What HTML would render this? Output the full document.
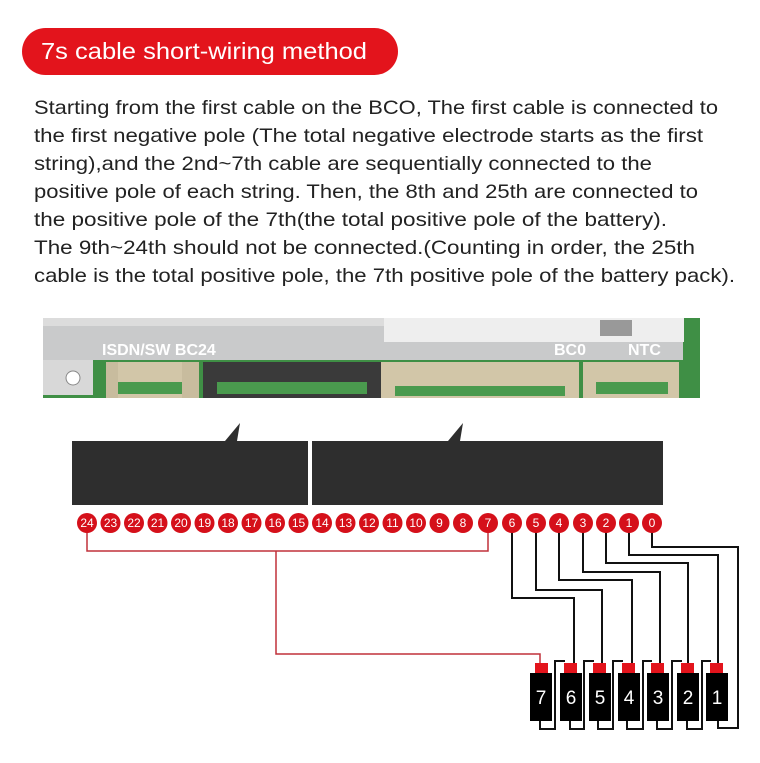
<!DOCTYPE html>
<html><head><meta charset="utf-8"><style>
html,body{margin:0;padding:0;background:#fff;}
svg{display:block;}
</style></head><body>
<svg width="760" height="763" viewBox="0 0 760 763" xmlns="http://www.w3.org/2000/svg" font-family="Liberation Sans, sans-serif">
<rect width="760" height="763" fill="#fff"/>
<rect x="22" y="28" width="376" height="47" rx="23.5" fill="#e3141c"/>
<text x="41" y="59" font-size="23" fill="#fff" textLength="326" lengthAdjust="spacingAndGlyphs">7s cable short-wiring method</text>
<g font-size="19.5" fill="#222">
<text x="34" y="114" textLength="684" lengthAdjust="spacingAndGlyphs">Starting from the first cable on the BCO, The first cable is connected to</text>
<text x="34" y="142" textLength="669" lengthAdjust="spacingAndGlyphs">the first negative pole (The total negative electrode starts as the first</text>
<text x="34" y="170" textLength="618" lengthAdjust="spacingAndGlyphs">string),and the 2nd~7th cable are sequentially connected to the</text>
<text x="34" y="198" textLength="664" lengthAdjust="spacingAndGlyphs">positive pole of each string. Then, the 8th and 25th are connected to</text>
<text x="34" y="226" textLength="633" lengthAdjust="spacingAndGlyphs">the positive pole of the 7th(the total positive pole of the battery).</text>
<text x="34" y="254" textLength="661" lengthAdjust="spacingAndGlyphs">The 9th~24th should not be connected.(Counting in order, the 25th</text>
<text x="34" y="282" textLength="701" lengthAdjust="spacingAndGlyphs">cable is the total positive pole, the 7th positive pole of the battery pack).</text>
</g>
<!-- board -->
<rect x="43" y="318" width="657" height="80" fill="#3f8f45"/>
<rect x="43" y="318" width="640" height="42" fill="#c9cacb"/>
<rect x="43" y="318" width="640" height="8" fill="#dcdcdc"/>
<rect x="43" y="360" width="50" height="35" fill="#d8d8d8"/>
<circle cx="73" cy="378" r="7" fill="#fff" stroke="#888"/>
<rect x="384" y="318" width="300" height="24" fill="#eeeeee"/>
<rect x="600" y="320" width="32" height="16" fill="#999"/>
<g font-size="16" font-weight="bold" fill="#fff"><text x="102" y="355">ISDN/SW BC24</text><text x="554" y="355">BC0</text><text x="628" y="355">NTC</text></g>
<rect x="106" y="362" width="92" height="36" fill="#d2c6a8"/>
<rect x="113" y="382" width="78" height="12" fill="#4a9a4e"/>
<rect x="106" y="362" width="12" height="36" fill="#c8bc9e"/>
<rect x="182" y="362" width="17" height="36" fill="#c8bc9e"/>
<rect x="203" y="362" width="178" height="36" fill="#3a3a3a"/>
<rect x="217" y="382" width="150" height="12" fill="#4a9a4e"/>
<rect x="381" y="362" width="198" height="36" fill="#d2c6a8"/>
<rect x="395" y="386" width="170" height="10" fill="#4a9a4e"/>
<rect x="583" y="362" width="96" height="36" fill="#d2c6a8"/>
<rect x="596" y="382" width="72" height="12" fill="#4a9a4e"/>
<!-- dark boxes -->
<rect x="72" y="441" width="236" height="64" fill="#2e2e2e"/>
<rect x="312" y="441" width="351" height="64" fill="#2e2e2e"/>
<polygon points="225,441 240,423 237,441" fill="#2e2e2e"/>
<polygon points="448,441 463,423 460,441" fill="#2e2e2e"/>
<!-- red wire -->
<polyline points="87,523 87,551 488,551 488,523" fill="none" stroke="#c0313a" stroke-width="1.5"/>
<polyline points="276,551 276,654 540,654 540,663" fill="none" stroke="#c0313a" stroke-width="1.5"/>
<!-- black wires -->
<g fill="none" stroke="#111" stroke-width="2">
<polyline points="512,523 512,598 574,598 574,663"/>
<polyline points="536,523 536,590 602,590 602,663"/>
<polyline points="559,523 559,580 632,580 632,663"/>
<polyline points="583,523 583,572 660,572 660,663"/>
<polyline points="606,523 606,563 688,563 688,663"/>
<polyline points="629,523 629,555 718,555 718,663"/>
<polyline points="652,523 652,547 738,547 738,728 718,728 718,721"/>
<polyline points="540,721 540,729 555,729 555,661 565,661"/>
<polyline points="570,721 570,729 584,729 584,661 594,661"/>
<polyline points="598,721 598,729 613,729 613,661 623,661"/>
<polyline points="627,721 627,729 643,729 643,661 652,661"/>
<polyline points="657,721 657,729 672,729 672,661 682,661"/>
<polyline points="687,721 687,729 702,729 702,661 711,661"/>
</g>
<!-- batteries -->
<g font-size="19" fill="#fff" text-anchor="middle">
<rect x="535" y="663" width="13" height="10" fill="#e3141c"/><rect x="530" y="673" width="22" height="48" fill="#000"/><text x="541" y="704">7</text>
<rect x="564" y="663" width="13" height="10" fill="#e3141c"/><rect x="560" y="673" width="22" height="48" fill="#000"/><text x="571" y="704">6</text>
<rect x="593" y="663" width="13" height="10" fill="#e3141c"/><rect x="589" y="673" width="22" height="48" fill="#000"/><text x="600" y="704">5</text>
<rect x="622" y="663" width="13" height="10" fill="#e3141c"/><rect x="618" y="673" width="22" height="48" fill="#000"/><text x="629" y="704">4</text>
<rect x="651" y="663" width="13" height="10" fill="#e3141c"/><rect x="647" y="673" width="22" height="48" fill="#000"/><text x="658" y="704">3</text>
<rect x="681" y="663" width="13" height="10" fill="#e3141c"/><rect x="677" y="673" width="22" height="48" fill="#000"/><text x="688" y="704">2</text>
<rect x="710" y="663" width="13" height="10" fill="#e3141c"/><rect x="706" y="673" width="22" height="48" fill="#000"/><text x="717" y="704">1</text>
</g>
<!-- numbered circles -->
<g font-size="12" fill="#fff" text-anchor="middle">
<circle cx="87" cy="523" r="10" fill="#d5101a"/><text x="87" y="527">24</text>
<circle cx="110.5" cy="523" r="10" fill="#d5101a"/><text x="110.5" y="527">23</text>
<circle cx="134" cy="523" r="10" fill="#d5101a"/><text x="134" y="527">22</text>
<circle cx="157.5" cy="523" r="10" fill="#d5101a"/><text x="157.5" y="527">21</text>
<circle cx="181" cy="523" r="10" fill="#d5101a"/><text x="181" y="527">20</text>
<circle cx="204.5" cy="523" r="10" fill="#d5101a"/><text x="204.5" y="527">19</text>
<circle cx="228" cy="523" r="10" fill="#d5101a"/><text x="228" y="527">18</text>
<circle cx="251.5" cy="523" r="10" fill="#d5101a"/><text x="251.5" y="527">17</text>
<circle cx="275" cy="523" r="10" fill="#d5101a"/><text x="275" y="527">16</text>
<circle cx="298.5" cy="523" r="10" fill="#d5101a"/><text x="298.5" y="527">15</text>
<circle cx="322" cy="523" r="10" fill="#d5101a"/><text x="322" y="527">14</text>
<circle cx="345.5" cy="523" r="10" fill="#d5101a"/><text x="345.5" y="527">13</text>
<circle cx="369" cy="523" r="10" fill="#d5101a"/><text x="369" y="527">12</text>
<circle cx="392.5" cy="523" r="10" fill="#d5101a"/><text x="392.5" y="527">11</text>
<circle cx="416" cy="523" r="10" fill="#d5101a"/><text x="416" y="527">10</text>
<circle cx="439.5" cy="523" r="10" fill="#d5101a"/><text x="439.5" y="527">9</text>
<circle cx="463" cy="523" r="10" fill="#d5101a"/><text x="463" y="527">8</text>
<circle cx="488" cy="523" r="10" fill="#d5101a"/><text x="488" y="527">7</text>
<circle cx="512" cy="523" r="10" fill="#d5101a"/><text x="512" y="527">6</text>
<circle cx="536" cy="523" r="10" fill="#d5101a"/><text x="536" y="527">5</text>
<circle cx="559" cy="523" r="10" fill="#d5101a"/><text x="559" y="527">4</text>
<circle cx="583" cy="523" r="10" fill="#d5101a"/><text x="583" y="527">3</text>
<circle cx="606" cy="523" r="10" fill="#d5101a"/><text x="606" y="527">2</text>
<circle cx="629" cy="523" r="10" fill="#d5101a"/><text x="629" y="527">1</text>
<circle cx="652" cy="523" r="10" fill="#d5101a"/><text x="652" y="527">0</text>
</g>
</svg>
</body></html>
